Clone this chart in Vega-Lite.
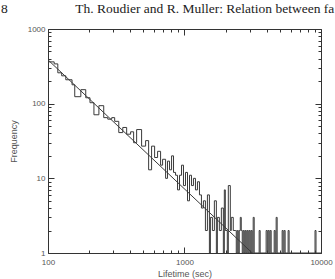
{
  "$schema": "https://vega.github.io/schema/vega-lite/v6.json",
  "width": 273,
  "height": 224,
  "autosize": "none",
  "padding": {"left": 48, "top": 29, "right": 14, "bottom": 26},
  "background": "white",
  "config": {"view": {"stroke": null}},
  "title": {
    "text": "8\u00a0\u00a0\u00a0\u00a0\u00a0\u00a0\u00a0\u00a0\u00a0\u00a0\u00a0\u00a0\u00a0\u00a0\u00a0\u00a0\u00a0\u00a0\u00a0\u00a0Th. Roudier and R. Muller: Relation between fa",
    "anchor": "start",
    "frame": "group",
    "dx": -47,
    "offset": 10,
    "font": "Liberation Serif",
    "fontSize": 13.5,
    "fontWeight": "normal",
    "color": "#222"
  },
  "datasets": {
    "hist": [
      {"lifetime": 100, "frequency": 363},
      {"lifetime": 111, "frequency": 341},
      {"lifetime": 118, "frequency": 259},
      {"lifetime": 126, "frequency": 236},
      {"lifetime": 135, "frequency": 209},
      {"lifetime": 150, "frequency": 179},
      {"lifetime": 157, "frequency": 124},
      {"lifetime": 174, "frequency": 154},
      {"lifetime": 189, "frequency": 120},
      {"lifetime": 203, "frequency": 103},
      {"lifetime": 217, "frequency": 71},
      {"lifetime": 236, "frequency": 94},
      {"lifetime": 256, "frequency": 65},
      {"lifetime": 274, "frequency": 62},
      {"lifetime": 293, "frequency": 65},
      {"lifetime": 308, "frequency": 58},
      {"lifetime": 330, "frequency": 41},
      {"lifetime": 353, "frequency": 48},
      {"lifetime": 377, "frequency": 39},
      {"lifetime": 403, "frequency": 42},
      {"lifetime": 424, "frequency": 30},
      {"lifetime": 446, "frequency": 45},
      {"lifetime": 485, "frequency": 27},
      {"lifetime": 519, "frequency": 32},
      {"lifetime": 546, "frequency": 13},
      {"lifetime": 574, "frequency": 27},
      {"lifetime": 604, "frequency": 19},
      {"lifetime": 635, "frequency": 23},
      {"lifetime": 668, "frequency": 15},
      {"lifetime": 691, "frequency": 18},
      {"lifetime": 727, "frequency": 10},
      {"lifetime": 751, "frequency": 17},
      {"lifetime": 777, "frequency": 13},
      {"lifetime": 804, "frequency": 20},
      {"lifetime": 831, "frequency": 12},
      {"lifetime": 860, "frequency": 11},
      {"lifetime": 889, "frequency": 7},
      {"lifetime": 919, "frequency": 11},
      {"lifetime": 951, "frequency": 15},
      {"lifetime": 983, "frequency": 8},
      {"lifetime": 1017, "frequency": 12},
      {"lifetime": 1052, "frequency": 5},
      {"lifetime": 1088, "frequency": 11},
      {"lifetime": 1125, "frequency": 8},
      {"lifetime": 1163, "frequency": 10},
      {"lifetime": 1203, "frequency": 7},
      {"lifetime": 1244, "frequency": 9},
      {"lifetime": 1287, "frequency": 6},
      {"lifetime": 1331, "frequency": 4},
      {"lifetime": 1376, "frequency": 5},
      {"lifetime": 1423, "frequency": 2},
      {"lifetime": 1472, "frequency": 6},
      {"lifetime": 1522, "frequency": 1},
      {"lifetime": 1548, "frequency": 3},
      {"lifetime": 1601, "frequency": 2},
      {"lifetime": 1655, "frequency": 5},
      {"lifetime": 1712, "frequency": 1},
      {"lifetime": 1741, "frequency": 3},
      {"lifetime": 1800, "frequency": 2},
      {"lifetime": 1862, "frequency": 4},
      {"lifetime": 1926, "frequency": 1},
      {"lifetime": 1958, "frequency": 7},
      {"lifetime": 1991, "frequency": 2},
      {"lifetime": 2059, "frequency": 1},
      {"lifetime": 2094, "frequency": 8},
      {"lifetime": 2166, "frequency": 2},
      {"lifetime": 2202, "frequency": 3},
      {"lifetime": 2277, "frequency": 2},
      {"lifetime": 2355, "frequency": 2},
      {"lifetime": 2395, "frequency": 1},
      {"lifetime": 2436, "frequency": 2},
      {"lifetime": 2477, "frequency": 1},
      {"lifetime": 2519, "frequency": 2},
      {"lifetime": 2562, "frequency": 3},
      {"lifetime": 2605, "frequency": 2},
      {"lifetime": 2649, "frequency": 1},
      {"lifetime": 2694, "frequency": 2},
      {"lifetime": 2740, "frequency": 1},
      {"lifetime": 2786, "frequency": 2},
      {"lifetime": 2833, "frequency": 1},
      {"lifetime": 2881, "frequency": 2},
      {"lifetime": 2930, "frequency": 1},
      {"lifetime": 2979, "frequency": 2},
      {"lifetime": 3030, "frequency": 1},
      {"lifetime": 3081, "frequency": 2},
      {"lifetime": 3133, "frequency": 1},
      {"lifetime": 3186, "frequency": 3},
      {"lifetime": 3240, "frequency": 1},
      {"lifetime": 3524, "frequency": 2},
      {"lifetime": 3584, "frequency": 1},
      {"lifetime": 3963, "frequency": 2},
      {"lifetime": 4040, "frequency": 1},
      {"lifetime": 4103, "frequency": 2},
      {"lifetime": 4173, "frequency": 1},
      {"lifetime": 4243, "frequency": 2},
      {"lifetime": 4315, "frequency": 1},
      {"lifetime": 4539, "frequency": 2},
      {"lifetime": 4616, "frequency": 1},
      {"lifetime": 4694, "frequency": 3},
      {"lifetime": 4774, "frequency": 1},
      {"lifetime": 5192, "frequency": 2},
      {"lifetime": 5280, "frequency": 1},
      {"lifetime": 5369, "frequency": 2},
      {"lifetime": 5460, "frequency": 1},
      {"lifetime": 5743, "frequency": 2},
      {"lifetime": 5840, "frequency": 1},
      {"lifetime": 9040, "frequency": 2},
      {"lifetime": 9193, "frequency": 1},
      {"lifetime": 10000, "frequency": 1}
    ],
    "fit": [
      {"lifetime": 100, "frequency": 386},
      {"lifetime": 3135, "frequency": 1}
    ]
  },
  "layer": [
    {
      "data": {"name": "hist"},
      "mark": {"type": "line", "interpolate": "step-after", "color": "#3a3a3a", "strokeWidth": 1, "clip": true},
      "encoding": {
        "x": {
          "field": "lifetime", "type": "quantitative",
          "scale": {"type": "log", "domain": [100, 10000], "nice": false},
          "axis": {
            "orient": "bottom",
            "values": [100, 200, 300, 400, 500, 600, 700, 800, 900, 1000, 2000, 3000, 4000, 5000, 6000, 7000, 8000, 9000, 10000],
            "labelExpr": "indexof([100, 1000, 10000], datum.value) >= 0 ? format(datum.value, 'd') : ''",
            "tickSize": {"condition": {"test": "indexof([100, 1000, 10000], datum.value) >= 0", "value": -6}, "value": -3},
            "grid": false,
            "domainColor": "#333", "tickColor": "#333",
            "labelColor": "#555", "labelFont": "Liberation Sans", "labelFontSize": 8, "labelPadding": 11,
            "labelOverlap": false, "labelFlush": false,
            "title": "Lifetime (sec)", "titleColor": "#555", "titleFont": "Liberation Sans", "titleFontSize": 9, "titleFontWeight": "normal", "titlePadding": 0
          }
        },
        "y": {
          "field": "frequency", "type": "quantitative",
          "scale": {"type": "log", "domain": [1, 1000], "nice": false},
          "axis": {
            "orient": "left",
            "values": [1, 2, 3, 4, 5, 6, 7, 8, 9, 10, 20, 30, 40, 50, 60, 70, 80, 90, 100, 200, 300, 400, 500, 600, 700, 800, 900, 1000],
            "labelExpr": "indexof([1, 10, 100, 1000], datum.value) >= 0 ? format(datum.value, 'd') : ''",
            "tickSize": {"condition": {"test": "indexof([1, 10, 100, 1000], datum.value) >= 0", "value": -6}, "value": -3},
            "grid": false,
            "domainColor": "#333", "tickColor": "#333",
            "labelColor": "#555", "labelFont": "Liberation Sans", "labelFontSize": 8, "labelPadding": 9,
            "labelOverlap": false, "labelFlush": false,
            "title": "Frequency", "titleColor": "#555", "titleFont": "Liberation Sans", "titleFontSize": 9, "titleFontWeight": "normal", "titlePadding": 9
          }
        }
      }
    },
    {
      "data": {"name": "fit"},
      "mark": {"type": "line", "color": "#3a3a3a", "strokeWidth": 1, "clip": true},
      "encoding": {
        "x": {
          "field": "lifetime", "type": "quantitative",
          "axis": {
            "orient": "top",
            "values": [100, 200, 300, 400, 500, 600, 700, 800, 900, 1000, 2000, 3000, 4000, 5000, 6000, 7000, 8000, 9000, 10000],
            "labels": false, "title": null, "grid": false,
            "tickSize": {"condition": {"test": "indexof([100, 1000, 10000], datum.value) >= 0", "value": -6}, "value": -3},
            "domainColor": "#333", "tickColor": "#333"
          }
        },
        "y": {
          "field": "frequency", "type": "quantitative",
          "axis": {
            "orient": "right",
            "values": [1, 2, 3, 4, 5, 6, 7, 8, 9, 10, 20, 30, 40, 50, 60, 70, 80, 90, 100, 200, 300, 400, 500, 600, 700, 800, 900, 1000],
            "labels": false, "title": null, "grid": false,
            "tickSize": {"condition": {"test": "indexof([1, 10, 100, 1000], datum.value) >= 0", "value": -6}, "value": -3},
            "domainColor": "#333", "tickColor": "#333"
          }
        }
      }
    }
  ],
  "resolve": {"axis": {"x": "independent", "y": "independent"}}
}
